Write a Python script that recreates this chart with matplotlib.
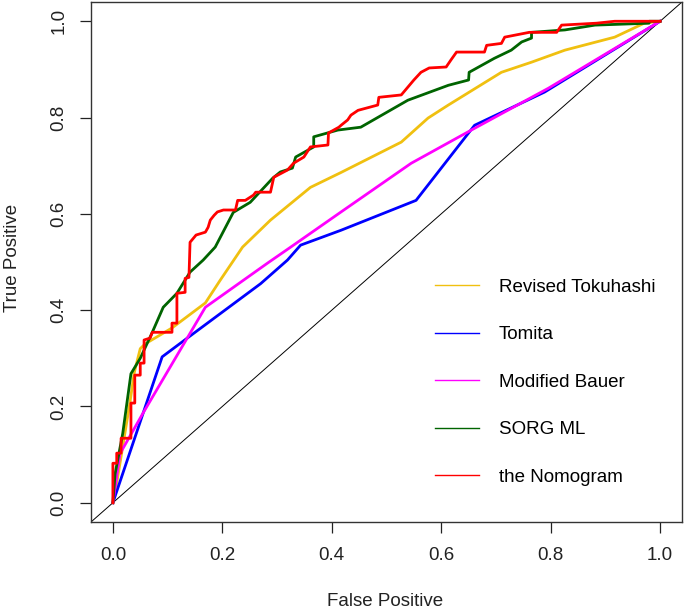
import matplotlib
matplotlib.use("Agg")
import matplotlib.pyplot as plt
from matplotlib.lines import Line2D

plt.rcParams['font.family'] = ['Liberation Sans', 'DejaVu Sans']

# ROC curves (false positive rate, true positive rate)
tok_x = [0, 0.004, 0.031, 0.039, 0.05, 0.059, 0.108, 0.169, 0.196, 0.237, 0.288,
         0.361, 0.417, 0.527, 0.576, 0.613, 0.71, 0.765, 0.826, 0.917, 0.971, 1.0]
tok_y = [0, 0.02, 0.207, 0.27, 0.32, 0.33, 0.363, 0.415, 0.462, 0.531, 0.587,
         0.655, 0.686, 0.749, 0.799, 0.826, 0.894, 0.915, 0.94, 0.967, 0.996, 1.0]

tom_x = [0, 0.09, 0.136, 0.27, 0.319, 0.343, 0.417, 0.554, 0.661, 0.789, 1.0]
tom_y = [0, 0.303, 0.342, 0.455, 0.504, 0.535, 0.566, 0.628, 0.784, 0.853, 1.0]

bau_x = [0, 0.013, 0.055, 0.169, 0.283, 0.325, 0.417, 0.545, 0.655, 0.796, 1.0]
bau_y = [0, 0.102, 0.186, 0.406, 0.498, 0.531, 0.604, 0.705, 0.774, 0.861, 1.0]

sorg_x = [0, 0.004, 0.018, 0.033, 0.05, 0.072, 0.092, 0.117, 0.141, 0.165, 0.187,
          0.22, 0.251, 0.292, 0.306, 0.328, 0.334, 0.367, 0.367, 0.411, 0.453,
          0.539, 0.613, 0.65, 0.651, 0.697, 0.728, 0.747, 0.765, 0.765, 0.826,
          0.881, 0.98, 0.98, 1.0]
sorg_y = [0, 0.06, 0.144, 0.268, 0.3, 0.354, 0.406, 0.435, 0.479, 0.504, 0.531,
          0.603, 0.624, 0.674, 0.687, 0.695, 0.718, 0.739, 0.76, 0.774, 0.78,
          0.836, 0.867, 0.878, 0.894, 0.923, 0.94, 0.957, 0.965, 0.977, 0.982,
          0.992, 0.996, 1.0, 1.0]

nom_x = [0, 0, 0.007, 0.007, 0.015, 0.015, 0.033, 0.033, 0.04, 0.04, 0.05, 0.05,
         0.057, 0.057, 0.068, 0.072, 0.108, 0.108, 0.117, 0.117, 0.132, 0.132,
         0.139, 0.141, 0.152, 0.169, 0.174, 0.178, 0.185, 0.191, 0.202, 0.224,
         0.228, 0.242, 0.257, 0.261, 0.288, 0.294, 0.319, 0.33, 0.349, 0.361,
         0.393, 0.394, 0.413, 0.417, 0.429, 0.435, 0.448, 0.484, 0.486, 0.527,
         0.55, 0.563, 0.578, 0.609, 0.618, 0.628, 0.679, 0.683, 0.71, 0.716,
         0.761, 0.811, 0.82, 0.884, 0.917, 1.0]
nom_y = [0, 0.082, 0.082, 0.103, 0.103, 0.134, 0.134, 0.207, 0.207, 0.265, 0.265,
         0.29, 0.29, 0.338, 0.342, 0.354, 0.354, 0.373, 0.373, 0.435, 0.437,
         0.466, 0.468, 0.541, 0.556, 0.562, 0.572, 0.587, 0.597, 0.604, 0.608,
         0.608, 0.628, 0.628, 0.639, 0.645, 0.645, 0.676, 0.691, 0.705, 0.718,
         0.739, 0.743, 0.768, 0.78, 0.784, 0.795, 0.805, 0.815, 0.826, 0.842,
         0.847, 0.878, 0.894, 0.903, 0.905, 0.92, 0.936, 0.936, 0.95, 0.954,
         0.967, 0.977, 0.977, 0.992, 0.996, 1.0, 1.0]

labels = ['Revised Tokuhashi', 'Tomita', 'Modified Bauer', 'SORG ML', 'the Nomogram']
colors = ['#F0C010', '#0000FF', '#FF00FF', '#006400', '#FF0000']

fig = plt.figure(figsize=(6.85, 6.15), dpi=100)
ax = fig.add_axes([91 / 685, 1 - 522 / 615, 591 / 685, 520 / 615])

# reference diagonal
ax.plot([-0.04, 1.04], [-0.04, 1.04], color='black', lw=0.7)

curves = [(tok_x, tok_y), (tom_x, tom_y), (bau_x, bau_y), (sorg_x, sorg_y), (nom_x, nom_y)]
for (cx, cy), c in zip(curves, colors):
    ax.plot(cx, cy, color=c, lw=2.0)

ax.set_xlim(-0.04, 1.04)
ax.set_ylim(-0.04, 1.04)
ticks = [0.0, 0.2, 0.4, 0.6, 0.8, 1.0]
ax.set_xticks(ticks)
ax.set_yticks(ticks)
ax.set_xticklabels(['%.1f' % t for t in ticks])
ax.set_yticklabels(['%.1f' % t for t in ticks], rotation=90, va='center')
ax.tick_params(length=8, width=0.9, labelsize=13.5, colors='#222222', pad=9)
ax.tick_params(axis='x', pad=10)
for s in ax.spines.values():
    s.set_linewidth(1.0)
    s.set_color('#333333')

fig.text(13 / 685, 1 - 258 / 615, 'True Positive', rotation=90, ha='center',
         va='center', fontsize=13.5, color='#222222')
fig.text(385 / 685, 1 - 602 / 615, 'False Positive', ha='center', va='center',
         fontsize=13.5, color='#222222')

handles = [Line2D([], [], color=c, lw=1.0) for c in colors]
ax.legend(handles, labels, loc='upper left', bbox_to_anchor=(0.582, 0.468),
          frameon=False, fontsize=13.5, handlelength=2.35, handletextpad=1.05,
          labelspacing=1.62, borderpad=0, borderaxespad=0)

fig.savefig('out.png', dpi=100)
